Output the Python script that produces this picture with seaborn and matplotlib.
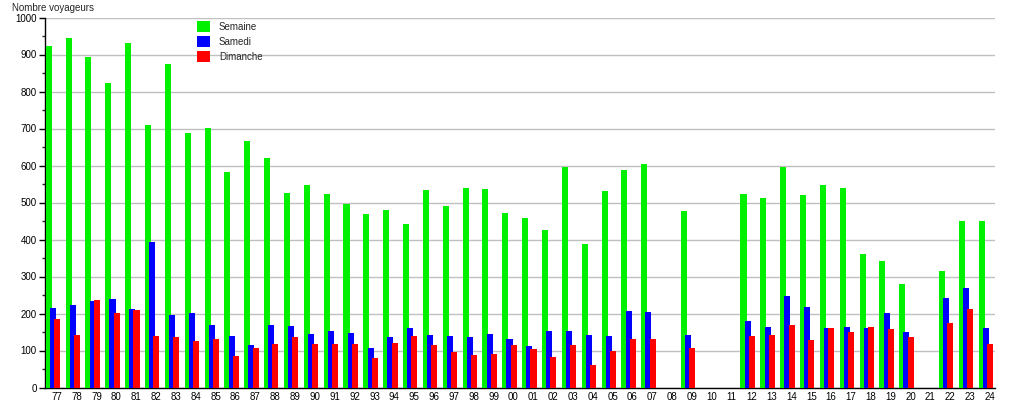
import matplotlib
matplotlib.use("Agg")
import matplotlib.pyplot as plt
from matplotlib.patches import Patch
from matplotlib.ticker import MultipleLocator
import seaborn as sns
import pandas as pd

years = ["77", "78", "79", "80", "81", "82", "83", "84", "85", "86", "87", "88",
         "89", "90", "91", "92", "93", "94", "95", "96", "97", "98", "99", "00",
         "01", "02", "03", "04", "05", "06", "07", "08", "09", "10", "11", "12",
         "13", "14", "15", "16", "17", "18", "19", "20", "21", "22", "23", "24"]

# None = pas de donnees (08, 10, 11, 21)
semaine = [923, 944, 894, 823, 932, 709, 875, 688, 702, 583, 667, 620,
           526, 548, 523, 495, 468, 479, 441, 533, 490, 539, 536, 471,
           458, 425, 595, 387, 531, 587, 604, None, 477, None, None, 523,
           512, 596, 520, 548, 539, 360, 341, 279, None, 314, 450, 450]
samedi = [214, 222, 234, 239, 213, 393, 195, 201, 168, 140, 114, 168,
          166, 144, 152, 147, 106, 136, 160, 141, 139, 136, 144, 131,
          112, 152, 152, 141, 139, 206, 204, None, 141, None, None, 179,
          163, 247, 217, 160, 163, 160, 201, 150, None, 241, 268, 160]
dimanche = [186, 142, 237, 201, 210, 140, 137, 125, 132, 86, 106, 117,
            137, 117, 117, 117, 79, 120, 139, 114, 95, 87, 90, 114,
            104, 82, 114, 60, 98, 131, 131, None, 106, None, None, 139,
            141, 168, 128, 160, 150, 163, 158, 136, None, 174, 212, 117]

series = ["Semaine", "Samedi", "Dimanche"]
colors = ["#00f000", "#0000ff", "#ff0000"]

df = pd.DataFrame({"annee": years, "Semaine": semaine,
                   "Samedi": samedi, "Dimanche": dimanche})
df = df.melt(id_vars="annee", var_name="type", value_name="voyageurs")

sns.set_style("white")
plt.rcParams["font.family"] = ["Liberation Sans", "DejaVu Sans"]

fig = plt.figure(figsize=(10.15, 4.0), dpi=100)
ax = fig.add_axes([45 / 1015, 12.5 / 400, 950 / 1015, 370 / 400])

sns.barplot(data=df, x="annee", y="voyageurs", hue="type", order=years,
            hue_order=series, palette=colors, saturation=1, width=0.63,
            errorbar=None, legend=False, ax=ax, zorder=3)

# barres un peu plus larges, qui se chevauchent comme sur l'original
for p in ax.patches:
    c = p.get_x() + p.get_width() / 2
    w = p.get_width() * 1.45
    p.set_x(c - w / 2)
    p.set_width(w)
    p.set_linewidth(0)

ax.set_xlim(-0.40, 47.46)
ax.set_ylim(0, 1000)
ax.set_xticks([i + 0.2 for i in range(len(years))])
ax.set_xticklabels(years)
ax.yaxis.set_major_locator(MultipleLocator(100))
ax.yaxis.set_minor_locator(MultipleLocator(50))
ax.tick_params(axis="x", length=0, pad=3, labelsize=7, colors="black")
ax.tick_params(axis="y", which="major", length=4, width=1, direction="out",
               left=True, pad=2, labelsize=7, colors="black")
ax.tick_params(axis="y", which="minor", length=2, width=1, direction="out",
               left=True)
ax.grid(axis="y", color="#c0c0c0", linewidth=1, zorder=0)
ax.set_axisbelow(True)
ax.set_xlabel("")
ax.set_ylabel("")
for s in ["top", "right"]:
    ax.spines[s].set_visible(False)
for s in ["left", "bottom"]:
    ax.spines[s].set_color("black")
    ax.spines[s].set_linewidth(1)

fig.text(12 / 1015, 1 - 8 / 400, "Nombre voyageurs", fontsize=7,
         va="center", ha="left")

handles = [Patch(facecolor=c, edgecolor="none", label=s)
           for s, c in zip(series, colors)]
fig.legend(handles=handles, loc="upper left",
           bbox_to_anchor=(197 / 1015, 1 - 21 / 400), frameon=False,
           fontsize=7, handlelength=1.3, handleheight=1.3,
           handletextpad=0.95, labelspacing=0.45, borderpad=0,
           borderaxespad=0)

fig.savefig("out.png", dpi=100)
